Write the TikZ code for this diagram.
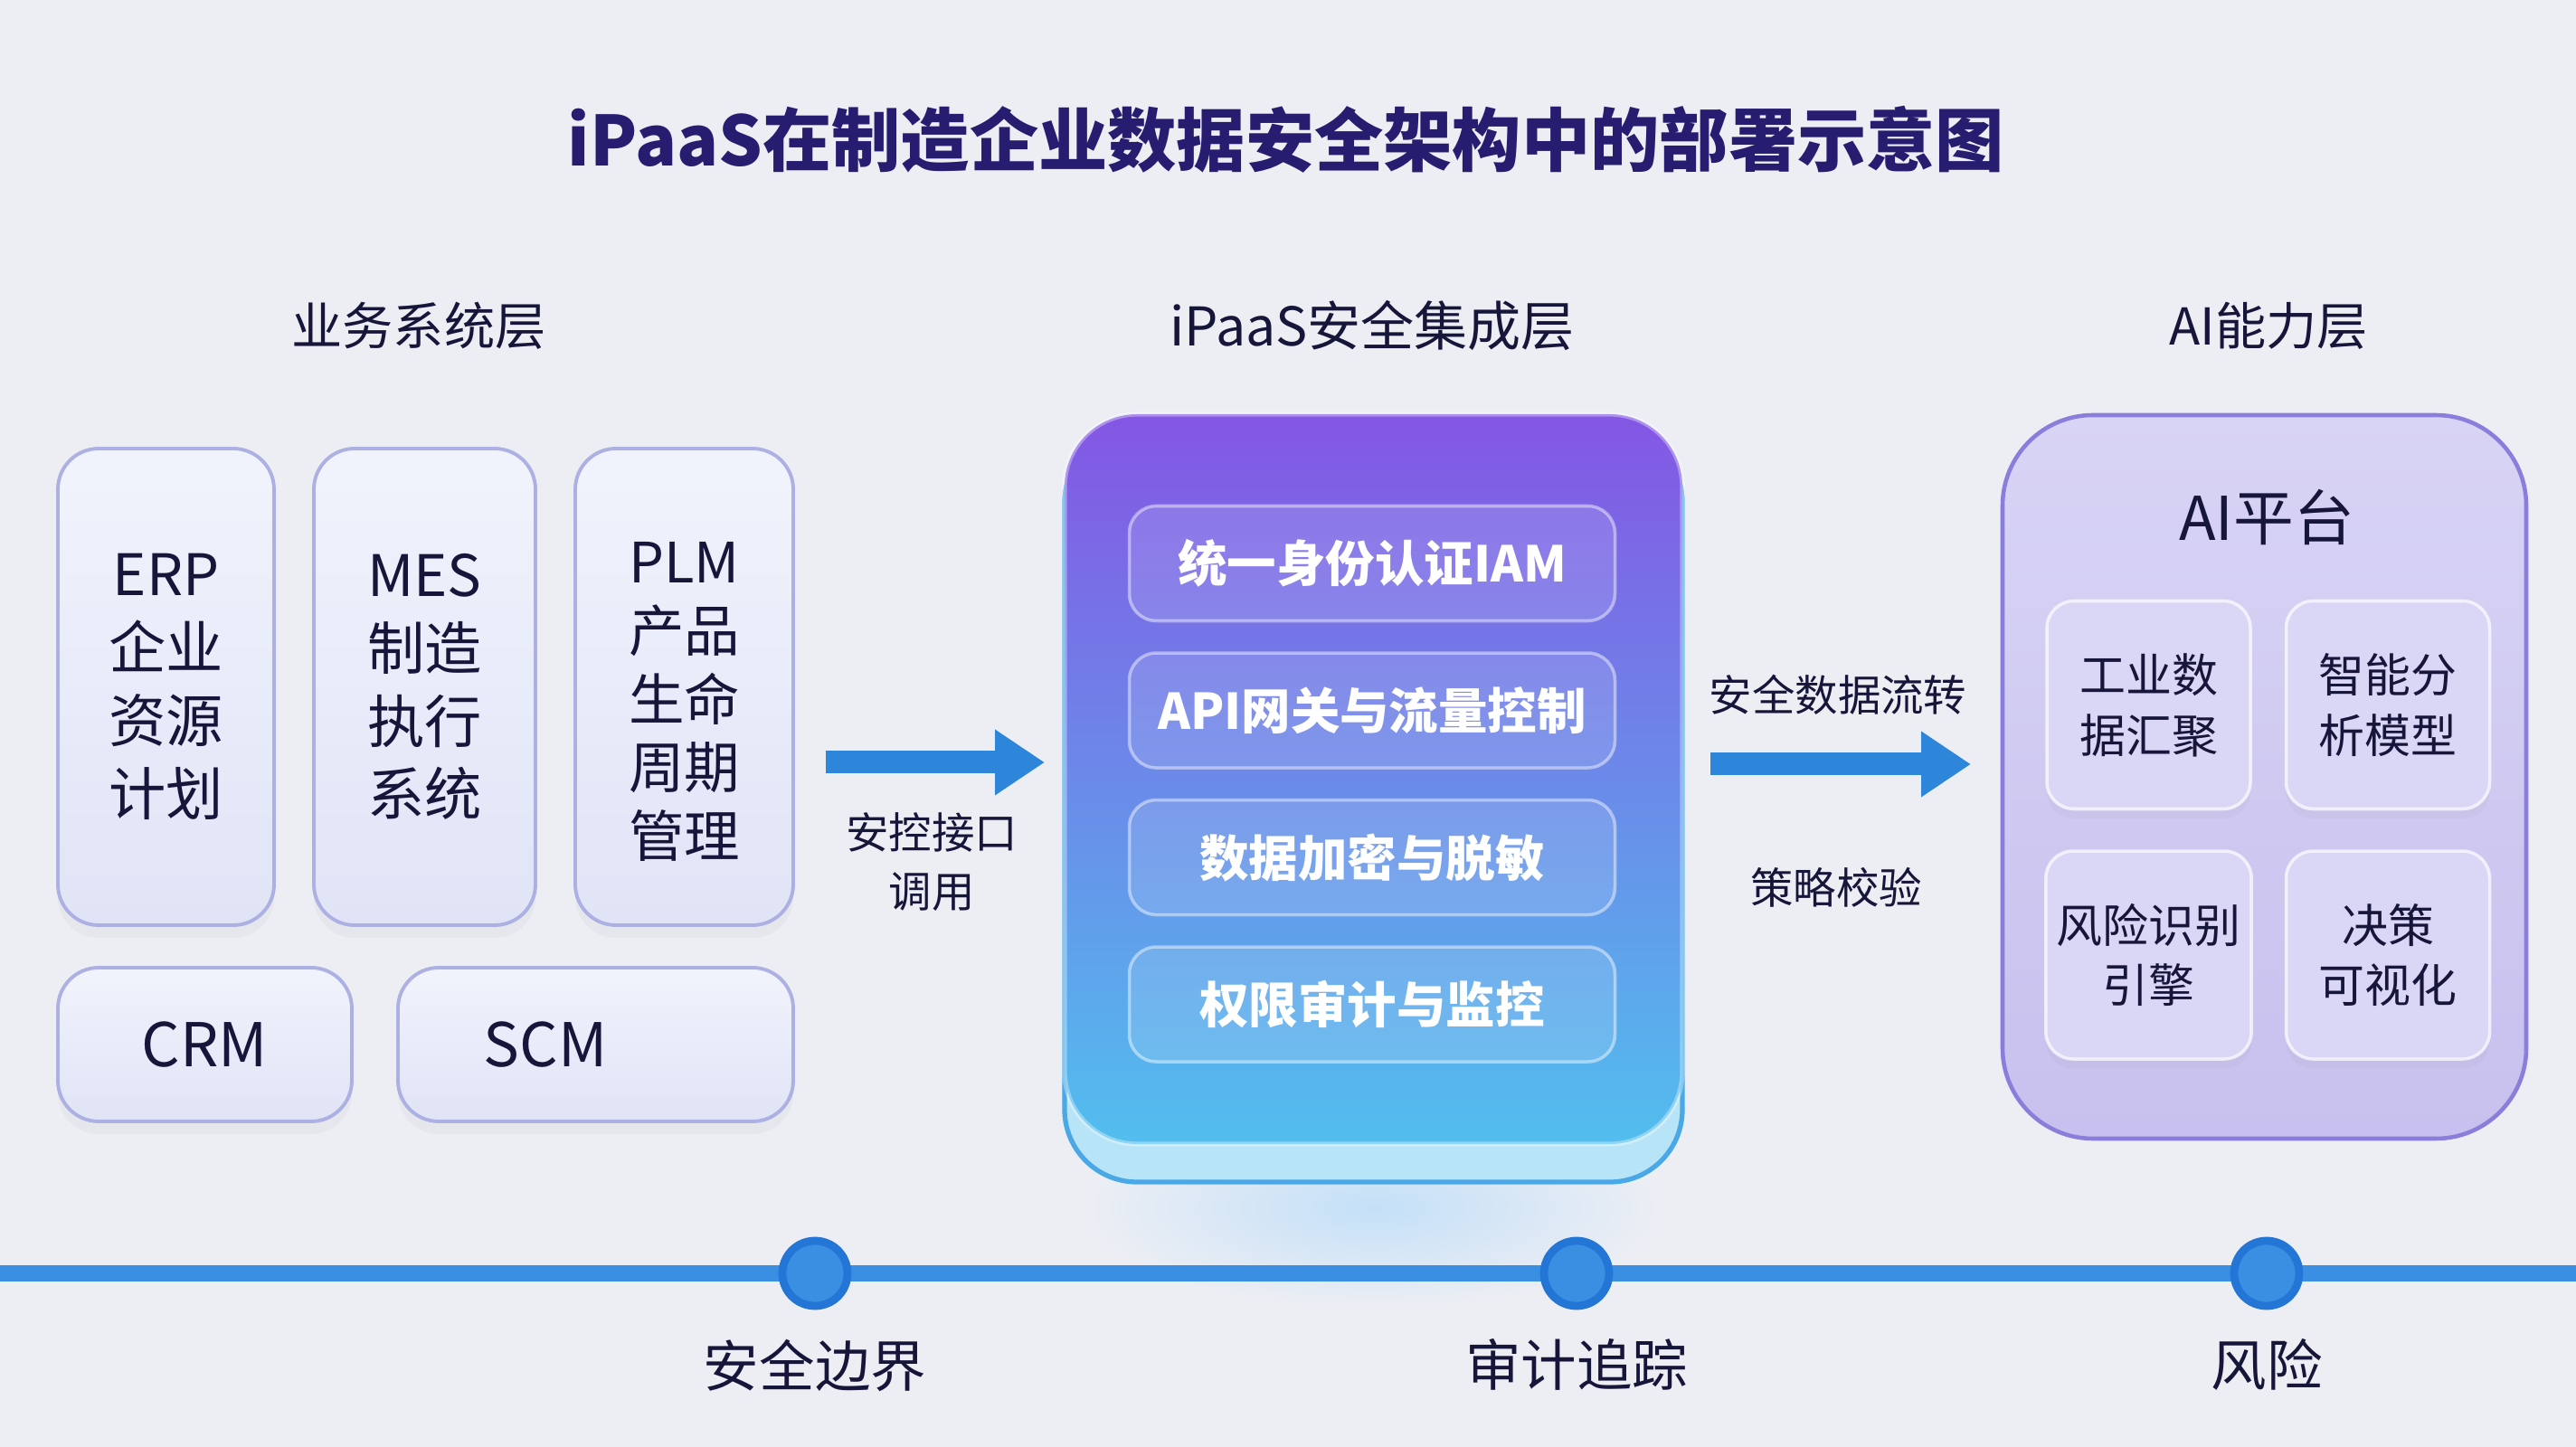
\documentclass[tikz,border=0pt]{standalone}
\usepackage{fontspec}
\setmainfont{Noto Sans CJK SC}
\usetikzlibrary{positioning, arrows.meta, shadows}
\definecolor{bgcolor}{RGB}{236,238,244}
\definecolor{titlenavy}{RGB}{38,28,112}
\definecolor{textnavy}{RGB}{22,22,58}
\definecolor{boxedge}{RGB}{172,176,226}
\definecolor{boxtop}{RGB}{241,243,252}
\definecolor{boxbottom}{RGB}{224,228,246}
\definecolor{ipaastop}{RGB}{132,86,228}
\definecolor{ipaasmid}{RGB}{94,110,226}
\definecolor{ipaasbottom}{RGB}{82,190,238}
\definecolor{ipaasbase}{RGB}{184,228,248}
\definecolor{ipaasrim}{RGB}{74,168,230}
\definecolor{aitop}{RGB}{216,212,245}
\definecolor{aibottom}{RGB}{200,192,238}
\definecolor{aiedge}{RGB}{138,126,220}
\definecolor{aicell}{RGB}{218,214,245}
\definecolor{flowblue}{RGB}{46,134,218}
\definecolor{lineblue}{RGB}{58,143,226}
\definecolor{dotblue}{RGB}{36,118,214}
\definecolor{glowblue}{RGB}{196,224,248}

\begin{document}
\begin{tikzpicture}[
  node distance=0.36cm and 0.36cm,
  sysbox/.style={draw=boxedge, line width=1.1pt, rounded corners=0.45cm,
                 top color=boxtop, bottom color=boxbottom, align=center,
                 text=textnavy, font=\fontsize{18}{23}\selectfont,
                 drop shadow={opacity=0.06, shadow xshift=0pt, shadow yshift=-4pt}},
  layer/.style={text=textnavy, font=\fontsize{16}{20}\selectfont},
  secbox/.style={draw=white, draw opacity=0.45, fill=white, fill opacity=0.13,
                 text opacity=1, rounded corners=0.3cm, line width=1pt,
                 minimum width=5.37cm, minimum height=1.27cm, text=white,
                 font=\fontsize{15.5}{19}\selectfont\bfseries},
  aicellbox/.style={draw=white, draw opacity=0.7, line width=1pt, fill=aicell,
                 rounded corners=0.3cm, minimum width=2.25cm, minimum height=2.30cm,
                 align=center, text=textnavy, font=\fontsize{14.5}{19}\selectfont,
                 drop shadow={opacity=0.06, shadow xshift=0pt, shadow yshift=-3pt}},
  note/.style={text=textnavy, align=center, font=\fontsize{13.5}{18.5}\selectfont},
  flow/.style={-{Triangle[length=0.55cm, width=0.69cm]}, line width=0.25cm, flowblue},
  mark dot/.style={circle, fill=lineblue, draw=dotblue, line width=2.5pt,
                 minimum size=0.72cm, inner sep=0pt},
  milestone/.style={text=textnavy, font=\fontsize{17.5}{21}\selectfont}
]
  \useasboundingbox (0,0) rectangle (28.48,-16);
  \fill[bgcolor] (0,0) rectangle (28.48,-16);
  \shade[inner color=glowblue, outer color=bgcolor] (15.19,-13.35) ellipse (3.2cm and 1.1cm);

  % title and layer names
  \node[text=titlenavy, font=\fontsize{21.7}{26}\selectfont\bfseries] (title) at (14.22,-1.54)
    {iPaaS在制造企业数据安全架构中的部署示意图};
  \node[layer] (bizlabel) at (4.63,-3.60) {业务系统层};
  \node[layer, font=\fontsize{16.8}{20}\selectfont] (seclabel) at (15.17,-3.60) {iPaaS安全集成层};
  \node[layer] (ailabel) at (25.08,-3.60) {AI能力层};

  % business systems
  \node[sysbox, minimum width=2.39cm, minimum height=5.27cm] (erp) at (1.835,-7.595)
    {ERP\\企业\\资源\\计划};
  \node[sysbox, minimum width=2.45cm, minimum height=5.27cm] (mes) at (4.695,-7.595)
    {MES\\制造\\执行\\系统};
  \node[sysbox, minimum width=2.41cm, minimum height=5.27cm] (plm) at (7.565,-7.595) {};
  \node[align=center, text=textnavy, font=\fontsize{17.5}{21.6}\selectfont] (plmtext)
    at (7.565,-7.76) {PLM\\产品\\生命\\周期\\管理};
  \node[sysbox, minimum width=3.25cm, minimum height=1.70cm,
        font=\fontsize{19}{23}\selectfont] (crm) at (2.265,-11.55) {CRM};
  \node[sysbox, minimum width=4.37cm, minimum height=1.70cm] (scm) at (6.585,-11.55) {};
  \node[text=textnavy, font=\fontsize{19}{23}\selectfont] (scmtext) at (6.03,-11.55) {SCM};

  % call arrow
  \coordinate (callstart) at (9.13,-8.43);
  \coordinate (callend) at (11.55,-8.43);
  \draw[flow] (callstart) -- (callend);
  \node[note] (calllabel) at (10.30,-9.53) {安控接口\\调用};

  % iPaaS security layer
  \node[draw=ipaasrim, line width=1.5pt, fill=ipaasbase, rounded corners=0.8cm,
        minimum width=6.83cm, minimum height=8.32cm] (ipaasplate) at (15.185,-8.91) {};
  \node[draw=white, draw opacity=0.35, line width=1.5pt, rounded corners=0.8cm,
        top color=ipaastop, middle color=ipaasmid, bottom color=ipaasbottom,
        minimum width=6.83cm, minimum height=8.07cm] (ipaas) at (15.185,-8.615) {};
  \node[secbox] (iam) at (15.17,-6.23) {统一身份认证IAM};
  \node[secbox, below=0.32cm of iam] (gateway) {API网关与流量控制};
  \node[secbox, below=0.32cm of gateway] (crypto) {数据加密与脱敏};
  \node[secbox, below=0.32cm of crypto] (audit) {权限审计与监控};

  % data flow arrow
  \coordinate (flowstart) at (18.91,-8.45);
  \coordinate (flowend) at (21.79,-8.45);
  \draw[flow] (flowstart) -- (flowend);
  \node[note] (flowlabel) at (20.32,-7.68) {安全数据流转};
  \node[note] (policylabel) at (20.30,-9.81) {策略校验};

  % AI layer
  \node[draw=aiedge, line width=1.3pt, rounded corners=1cm,
        top color=aitop, bottom color=aibottom,
        minimum width=5.79cm, minimum height=8.00cm] (aiplat) at (25.035,-8.59) {};
  \node[text=textnavy, font=\fontsize{19}{23}\selectfont] (aititle) at (25.06,-5.72) {AI平台};
  \node[aicellbox] (gather) at (23.755,-7.795) {工业数\\据汇聚};
  \node[aicellbox, right=of gather] (model) {智能分\\析模型};
  \node[aicellbox, below=0.43cm of gather] (risk) {风险识别\\引擎};
  \node[aicellbox, below=0.43cm of model] (decide) {决策\\可视化};

  % timeline
  \coordinate (lineleft) at (0,-14.08);
  \coordinate (lineright) at (28.48,-14.08);
  \draw[lineblue, line width=0.18cm] (lineleft) -- (lineright);
  \node[mark dot] (boundary) at (9.01,-14.08) {};
  \node[mark dot] (trace) at (17.43,-14.08) {};
  \node[mark dot] (riskdot) at (25.06,-14.08) {};
  \node[milestone, below=0.2cm of boundary] (boundarylabel) {安全边界};
  \node[milestone, below=0.2cm of trace] (tracelabel) {审计追踪};
  \node[milestone, below=0.2cm of riskdot] (risklabel) {风险};
\end{tikzpicture}
\end{document}
